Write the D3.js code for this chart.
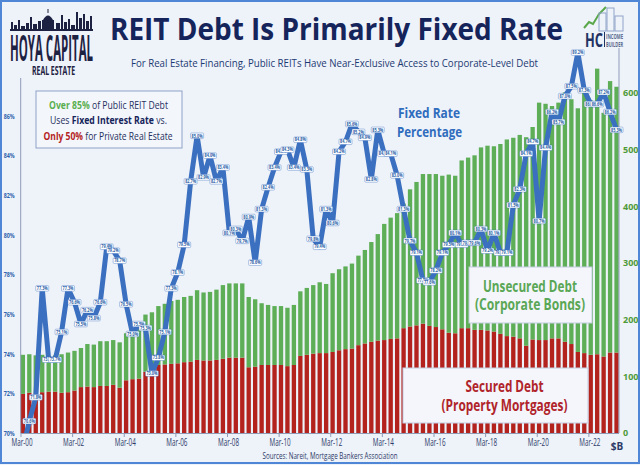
<!DOCTYPE html>
<html><head><meta charset="utf-8">
<script src="https://cdn.jsdelivr.net/npm/d3@7"></script>
<style>body{margin:0;background:#eef2f9;} svg{display:block;}</style>
</head><body>
<svg id="c" width="640" height="465"></svg>
<script>
const quarters = [
"Mar-00","Jun-00","Sep-00","Dec-00","Mar-01","Jun-01","Sep-01","Dec-01",
"Mar-02","Jun-02","Sep-02","Dec-02","Mar-03","Jun-03","Sep-03","Dec-03",
"Mar-04","Jun-04","Sep-04","Dec-04","Mar-05","Jun-05","Sep-05","Dec-05",
"Mar-06","Jun-06","Sep-06","Dec-06","Mar-07","Jun-07","Sep-07","Dec-07",
"Mar-08","Jun-08","Sep-08","Dec-08","Mar-09","Jun-09","Sep-09","Dec-09",
"Mar-10","Jun-10","Sep-10","Dec-10","Mar-11","Jun-11","Sep-11","Dec-11",
"Mar-12","Jun-12","Sep-12","Dec-12","Mar-13","Jun-13","Sep-13","Dec-13",
"Mar-14","Jun-14","Sep-14","Dec-14","Mar-15","Jun-15","Sep-15","Dec-15",
"Mar-16","Jun-16","Sep-16","Dec-16","Mar-17","Jun-17","Sep-17","Dec-17",
"Mar-18","Jun-18","Sep-18","Dec-18","Mar-19","Jun-19","Sep-19","Dec-19",
"Mar-20","Jun-20","Sep-20","Dec-20","Mar-21","Jun-21","Sep-21","Dec-21",
"Mar-22","Jun-22","Sep-22","Dec-22","Mar-23"];

// Secured debt (property mortgages), $B
const secured = [
69,71,70,72,73,73,71,72, 75,81,82,81,83,83,85,80,
93,95,96,108,111,120,121,122, 123,125,126,129,128,128,129,131,
133,133,133,116,117,120,120,120, 120,118,120,136,138,140,141,141,
143,146,148,149,155,158,161,163, 164,166,167,185,188,190,193,189,
187,183,177,176,185,185,182,182, 181,179,175,171,170,167,154,165,
164,164,167,167,161,157,143,141, 138,139,135,142,142];

// Unsecured debt (corporate bonds), $B
const unsecured = [
69,68,67,66,63,64,68,70, 70,69,75,75,79,79,79,80,
83,83,90,101,102,104,107,111, 112,115,116,123,120,121,124,130,
131,131,131,124,119,109,106,104, 104,103,106,114,118,121,125,122,
139,143,146,150,158,165,176,188, 205,214,221,220,242,253,264,268,
270,271,279,278,296,301,308,322, 326,327,335,347,351,359,368,375,
419,417,410,416,440,432,430,459, 449,504,430,479,469];

// Fixed rate percentage of public REIT debt
const fixedRate = [
69.2,70.6,71.8,77.3,73.7,73.7,75.1,77.3,76.6,75.5,
76.2,75.8,76.6,79.4,79.2,78.7,76.5,75.0,75.5,75.3,
73.0,73.8,75.1,77.3,78.1,79.5,82.7,85.0,82.9,84.0,
82.7,83.4,80.1,80.3,79.7,80.9,78.6,81.3,82.4,83.4,
84.2,84.3,83.4,84.8,83.3,79.8,79.4,81.3,80.6,84.2,
84.7,85.6,85.2,84.9,82.8,85.3,84.1,84.1,83.0,81.3,
79.7,79.1,77.7,77.6,78.2,79.1,79.5,80.1,79.5,79.6,
79.6,80.3,79.2,80.1,79.1,79.1,81.5,82.3,84.1,84.7,
80.7,84.4,86.2,85.7,87.0,87.5,89.2,87.3,86.6,86.6,
87.2,86.2,85.3];

const xTickLabels = ["Mar-00","Mar-02","Mar-04","Mar-06","Mar-08","Mar-10","Mar-12","Mar-14","Mar-16","Mar-18","Mar-20","Mar-22"];
const leftTicks = [70,72,74,76,78,80,82,84,86];
const rightTicks = [0,100,200,300,400,500,600];

const FONT = "'Open Sans', 'Noto Sans', sans-serif";
const NAVY = "#15245a";
const RED = "#b3221d", GREEN = "#5dae56", BLUE = "#3b6fbf";

const svg = d3.select("#c");
svg.append("rect").attr("width",640).attr("height",465).attr("fill","#eef2f9");

// scales
const x = d3.scaleBand().domain(quarters).range([20.7, 618.7]).paddingInner(0.33).paddingOuter(0);
const bw = x.bandwidth();
const yL = d3.scaleLinear().domain([70,86]).range([433,116]);
const yR = d3.scaleLinear().domain([0,600]).range([433,93]);

// stacked bars
const rows = quarters.map((q,i)=>({q, secured: secured[i], unsecured: unsecured[i]}));
const stack = d3.stack().keys(["secured","unsecured"])(rows);
const colors = {secured: RED, unsecured: GREEN};
svg.append("g").selectAll("g").data(stack).join("g")
  .attr("fill", d=>colors[d.key])
  .selectAll("rect").data(d=>d).join("rect")
  .attr("x", d=>x(d.data.q)).attr("width", bw)
  .attr("y", d=>yR(d[1])).attr("height", d=>yR(d[0])-yR(d[1]));

// axes lines
svg.append("line").attr("x1",20.7).attr("x2",20.7).attr("y1",78).attr("y2",433).attr("stroke","#8f9cb8").attr("stroke-width",1);
svg.append("line").attr("x1",619).attr("x2",619).attr("y1",48).attr("y2",433).attr("stroke","#8f9cb8").attr("stroke-width",1);
svg.append("line").attr("x1",20.7).attr("x2",619).attr("y1",433.5).attr("y2",433.5).attr("stroke","#8f9cb8").attr("stroke-width",1);

// bottom axis
const gx = svg.append("g").attr("transform",`translate(${-bw/2+0.3},433)`)
  .call(d3.axisBottom(x).tickValues(xTickLabels).tickSize(4).tickPadding(5));
gx.select(".domain").remove();
gx.selectAll(".tick line").attr("stroke","#8f9cb8");
gx.selectAll(".tick text").attr("font-family",FONT).attr("font-size",10).attr("fill","#2c3a68")
  .attr("textLength",21).attr("lengthAdjust","spacingAndGlyphs").attr("x",1).attr("y",6).attr("dy","0.71em");
svg.append("text").attr("x",617).attr("y",449.5).attr("text-anchor","middle").attr("font-family",FONT)
  .attr("font-weight",700).attr("font-size",10).attr("fill","#2c3a68").text("$B");

// left axis
const gl = svg.append("g").attr("transform","translate(20.7,0)")
  .call(d3.axisLeft(yL).tickValues(leftTicks).tickFormat(d=>d+"%").tickSize(0).tickPadding(6));
gl.select(".domain").remove();
gl.selectAll(".tick text").attr("font-family",FONT).attr("font-size",7).attr("font-weight",700).attr("fill","#2f62ad")
  .attr("textLength",11).attr("lengthAdjust","spacingAndGlyphs");

// right axis
const gr = svg.append("g").attr("transform","translate(619,0)")
  .call(d3.axisRight(yR).tickValues(rightTicks).tickSize(0).tickPadding(4));
gr.select(".domain").remove();
gr.selectAll(".tick text").attr("font-family",FONT).attr("font-size",9).attr("font-weight",700).attr("fill","#4e9a3a");

// helper for text
function T(g, xx, yy, str, size, weight, fill, len, anchor){
  const t = g.append("text").attr("x",xx).attr("y",yy).attr("font-family",FONT).attr("font-size",size)
    .attr("font-weight",weight).attr("fill",fill).attr("text-anchor",anchor||"start").text(str);
  if(len) t.attr("textLength",len).attr("lengthAdjust","spacingAndGlyphs");
  return t;
}

// annotation boxes
const ann = svg.append("g");
ann.append("rect").attr("x",36).attr("y",91).attr("width",146).attr("height",57).attr("fill","#f3f6fb").attr("stroke","#8ea2c8").attr("stroke-width",1);
function multi(yy, parts, len, cx){
  const t = ann.append("text").attr("x",cx).attr("y",yy).attr("text-anchor","middle").attr("font-family",FONT)
    .attr("font-size",11.3).attr("textLength",len).attr("lengthAdjust","spacingAndGlyphs");
  parts.forEach(p=>t.append("tspan").attr("fill",p[1]).attr("font-weight",p[2]).text(p[0]));
}
multi(108.5, [["Over 85%","#5aae4e",700],[" of Public REIT Debt","#1f2f5e",400]], 119, 108.5);
multi(124, [["Uses ","#1f2f5e",400],["Fixed Interest Rate","#15245a",700],[" vs.","#1f2f5e",400]], 117, 108.5);
multi(139.5, [["Only 50%","#b3221d",700],[" for Private Real Estate","#1f2f5e",400]], 129, 108);

ann.append("rect").attr("x",469).attr("y",267).attr("width",123).attr("height",56).attr("fill","#f4f6fb").attr("stroke","#c3cde0");
T(ann,530,291.5,"Unsecured Debt",15.5,700,"#5aa756",94,"middle");
T(ann,530,310,"(Corporate Bonds)",15.5,700,"#5aa756",110,"middle");
ann.append("rect").attr("x",403).attr("y",368).attr("width",185).attr("height",55).attr("fill","#f4f6fb").attr("stroke","#c3cde0");
T(ann,504.5,392,"Secured Debt",15.5,700,"#b0232a",78,"middle");
T(ann,504.5,410.5,"(Property Mortgages)",15.5,700,"#b0232a",126,"middle");

T(svg,429,118,"Fixed Rate",15,700,"#2f6cbd",62,"middle");
T(svg,429.5,137,"Percentage",15,700,"#2f6cbd",65,"middle");

// fixed rate line
svg.append("clipPath").attr("id","clipL").append("rect").attr("x",0).attr("y",0).attr("width",640).attr("height",433);
const lg = svg.append("g").attr("clip-path","url(#clipL)");
const lineGen = d3.line().x((d,i)=>x(quarters[i])+bw/2).y(d=>yL(d));
lg.append("path").datum(fixedRate).attr("d",lineGen).attr("fill","none").attr("stroke",BLUE)
  .attr("stroke-width",5).attr("stroke-linejoin","round").attr("stroke-linecap","round");
const pts = fixedRate.map((v,i)=>({v,i})).filter(d=>d.v>=70);
const lbl = lg.selectAll("g.lbl").data(pts).join("g").attr("class","lbl")
  .attr("transform",d=>`translate(${x(quarters[d.i])+bw/2},${yL(d.v)})`);
lbl.append("rect").attr("x",-6.5).attr("y",-2.8).attr("width",13).attr("height",5.6).attr("rx",1)
  .attr("fill","#ffffff").attr("stroke","#3b6fbf").attr("stroke-width",0.4);
lbl.append("text").attr("text-anchor","middle").attr("y",1.7).attr("font-family",FONT).attr("font-size",4.6)
  .attr("font-weight",700).attr("fill","#2c5fa8").attr("textLength",11).attr("lengthAdjust","spacingAndGlyphs")
  .text(d=>d.v.toFixed(1)+"%");

// titles
T(svg,110,39.5,"REIT Debt Is Primarily Fixed Rate",30,700,NAVY,453);
T(svg,131,67,"For Real Estate Financing, Public REITs Have Near-Exclusive Access to Corporate-Level Debt",10.5,400,"#1c3a72",407);
T(svg,330,459,"Sources: Nareit, Mortgage Bankers Association",9.5,400,"#2c3a68",135,"middle");

// Hoya Capital logo
const logo = svg.append("g").attr("fill","#1d2242");
logo.append("rect").attr("x",10).attr("y",29).attr("width",83).attr("height",2);
[[11,22,2,7],[14,25,3,4],[18,20,2,9],[21,26,4,3],[26,23,3,6],[30,17,2,12],[33,24,4,5],[38,21,3,8],
 [42,20,12,9],[56,23,4,6],[61,15,2,14],[64,22,3,7],[68,19,2,10],[71,25,4,4],[76,12,2,17],[79,18,3,11],
 [83,14,2,15],[86,21,3,8],[90,16,2,13]].forEach(r=>logo.append("rect").attr("x",r[0]).attr("y",r[1]).attr("width",r[2]).attr("height",r[3]));
logo.append("path").attr("d","M43,20 Q48,11 53,20 Z");
logo.append("rect").attr("x",47.5).attr("y",9).attr("width",1).attr("height",4);
const hoya = svg.append("g").attr("transform","translate(10,60.5) scale(1,1.45)");
T(hoya,0,0,"HOYA CAPITAL",25,700,"#1d2242",83).attr("font-family","'Liberation Sans Narrow', "+FONT);
T(svg,32,75,"REAL ESTATE",12.5,700,"#1d2242",43).attr("font-family","'Liberation Sans Narrow', "+FONT);

// HC Income Builder logo
const hc = svg.append("g");
hc.append("polyline").attr("points","584,28 589,22 593,24 599,14 606,7").attr("fill","none").attr("stroke","#5aa84b").attr("stroke-width",2);
[[599,13,7,18],[607,8,7,23],[615,16,8,15]].forEach(r=>hc.append("rect").attr("x",r[0]).attr("y",r[1]).attr("width",r[2]).attr("height",r[3])
  .attr("fill","none").attr("stroke","#8fa4c8").attr("stroke-width",1));
T(hc,585,47,"HC",20,700,"#1f3262",18);
hc.append("line").attr("x1",604.5).attr("x2",604.5).attr("y1",32).attr("y2",47).attr("stroke","#1f3262").attr("stroke-width",1);
T(hc,606,38.5,"INCOME",7,700,"#5b6b8e",17);
T(hc,606,46.5,"BUILDER",7,700,"#5b6b8e",17);

// frame
svg.append("rect").attr("x",1).attr("y",1).attr("width",638).attr("height",462).attr("fill","none").attr("stroke","#4f86d6").attr("stroke-width",2);
</script>
</body></html>
